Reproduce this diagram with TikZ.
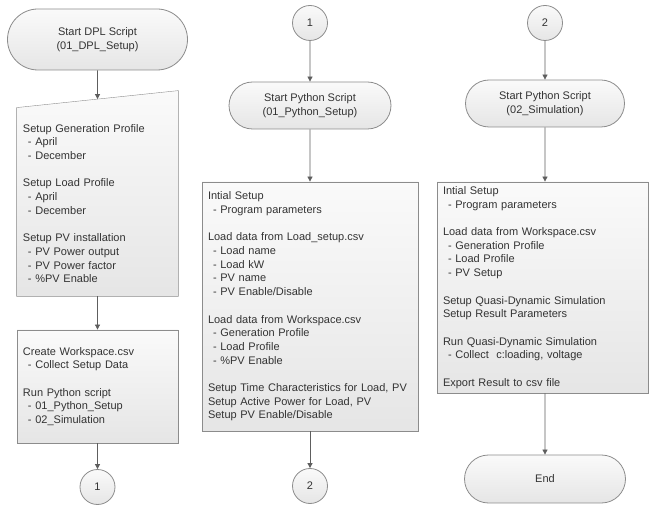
\documentclass[tikz,border=0pt]{standalone}
\usepackage{fontspec}
\setmainfont{Liberation Sans}
\usetikzlibrary{shapes.misc,arrows.meta,positioning,backgrounds}
\definecolor{flowline}{HTML}{5E5E5E}
\definecolor{edgegray}{HTML}{8C8C8C}
\definecolor{txtgray}{HTML}{333333}
\newcommand{\dashitem}{\hspace*{5pt}- }

\begin{document}
\begin{tikzpicture}[
    x=1pt, y=-1pt,
    >={Triangle[width=5pt,length=5pt]},
    line width=0.8pt,
    every node/.style={font=\fontsize{11}{13.7}\selectfont, text=txtgray},
    filled/.style={draw=edgegray, top color=white!98!black, bottom color=white!90!black},
    term/.style={filled, rounded rectangle, align=center, inner sep=0pt},
    procbox/.style={filled, rectangle, align=left, inner xsep=6pt, inner ysep=0pt},
    inputbox/.style={rectangle, align=left, inner xsep=6pt, inner ysep=0pt},
    conn/.style={filled, circle, minimum size=35pt, inner sep=0pt},
    flow/.style={->, draw=flowline}
]
  \useasboundingbox (0,0) rectangle (649,505);

  % column 1: DPL script
  \node[term, minimum width=180pt, minimum height=61pt] (dplstart) at (97.5,39.5)
    {Start DPL Script\\(01\_DPL\_Setup)};
  \node[inputbox, text width=149pt, minimum height=185pt] (profiles) at (97.5,203.5)
    {Setup Generation Profile\\\dashitem April\\\dashitem December\\[13.7pt]
     Setup Load Profile\\\dashitem April\\\dashitem December\\[13.7pt]
     Setup PV installation\\\dashitem PV Power output\\\dashitem PV Power factor\\\dashitem \%PV Enable};
  \begin{scope}[on background layer]
    \draw[filled] (profiles.south west) -- (profiles.south east)
      -- ([yshift=20pt]profiles.north east) -- ([yshift=3pt]profiles.north west) -- cycle;
  \end{scope}
  \node[procbox, text width=149pt, minimum height=113pt] (workspace) at (97.5,386.5)
    {Create Workspace.csv\\\dashitem Collect Setup Data\\[13.7pt]
     Run Python script\\\dashitem 01\_Python\_Setup\\\dashitem 02\_Simulation};
  \node[conn] (onea) at (97.5,487) {1};

  % column 2: python setup
  \node[conn] (oneb) at (310,23) {1};
  \node[term, minimum width=162pt, minimum height=47pt] (pystart) at (310,105.5)
    {Start Python Script\\(01\_Python\_Setup)};
  \node[procbox, text width=204pt, minimum height=249pt] (pysetup) at (310,306.5)
    {Intial Setup\\\dashitem Program parameters\\[13.7pt]
     Load data from Load\_setup.csv\\\dashitem Load name\\\dashitem Load kW\\\dashitem PV name\\\dashitem PV Enable/Disable\\[13.7pt]
     Load data from Workspace.csv\\\dashitem Generation Profile\\\dashitem Load Profile\\\dashitem \%PV Enable\\[13.7pt]
     Setup Time Characteristics for Load, PV\\Setup Active Power for Load, PV\\Setup PV Enable/Disable};
  \node[conn] (twoa) at (310,486) {2};

  % column 3: simulation
  \node[conn] (twob) at (545,23) {2};
  \node[term, minimum width=159pt, minimum height=47pt] (simstart) at (545,103.5)
    {Start Python Script\\(02\_Simulation)};
  \node[procbox, text width=199pt, minimum height=211pt] (simrun) at (542.5,287.5)
    {Intial Setup\\\dashitem Program parameters\\[13.7pt]
     Load data from Workspace.csv\\\dashitem Generation Profile\\\dashitem Load Profile\\\dashitem PV Setup\\[13.7pt]
     Setup Quasi-Dynamic Simulation\\Setup Result Parameters\\[13.7pt]
     Run Quasi-Dynamic Simulation\\\dashitem Collect~~c:loading, voltage\\[13.7pt]
     Export Result to csv file};
  \node[term, minimum width=161pt, minimum height=48pt] (finish) at (545,479) {End};

  % edges
  \draw[flow] (dplstart) -- ([yshift=11.5pt]profiles.north);
  \draw[flow] (profiles) -- (workspace);
  \draw[flow] (workspace) -- (onea);
  \draw[flow] (oneb) -- (pystart);
  \draw[flow] (pystart) -- (pysetup);
  \draw[flow] (pysetup) -- (twoa);
  \draw[flow] (twob) -- (simstart);
  \draw[flow] (simstart) -- (simstart |- simrun.north);
  \draw[flow] (simrun.south -| finish) -- (finish);
\end{tikzpicture}
\end{document}
